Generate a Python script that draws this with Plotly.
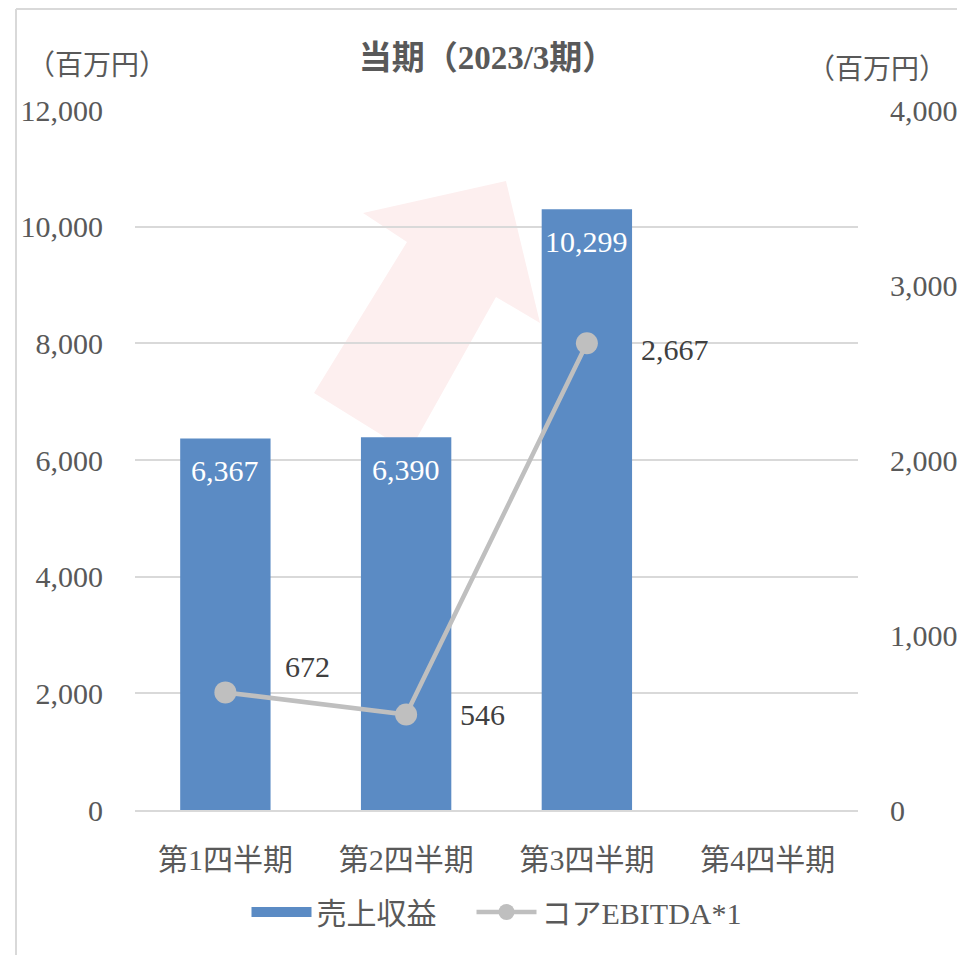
import plotly.graph_objects as go

categories = ["第1四半期", "第2四半期", "第3四半期", "第4四半期"]
revenue = [6367, 6390, 10299, None]
ebitda = [672, 546, 2667, None]
revenue_labels = ["6,367", "6,390", "10,299"]
ebitda_labels = ["672", "546", "2,667"]
left_ticks = [0, 2000, 4000, 6000, 8000, 10000, 12000]
right_ticks = [0, 1000, 2000, 3000, 4000]

FONT = "Liberation Serif, 'Noto Sans CJK JP', serif"
GRAY = "#595959"
BLUE = "#5B8BC4"

W, H = 957, 955
L, R, T, B = 135, 858, 110, 810

fig = go.Figure()
fig.add_trace(go.Bar(
    x=categories, y=revenue, name="売上収益",
    marker=dict(color=BLUE, line=dict(width=0)),
    yaxis="y", showlegend=False,
))
# legend entry for bars (wide rectangle look)
fig.add_trace(go.Scatter(
    x=[None], y=[None], name="売上収益\u3000", mode="lines",
    line=dict(color=BLUE, width=15), yaxis="y",
))
fig.add_trace(go.Scatter(
    x=categories, y=ebitda, name="コアEBITDA*1", mode="lines+markers",
    line=dict(color="#BFBFBF", width=4.5),
    marker=dict(color="#BFBFBF", size=22),
    yaxis="y2",
))

# bar labels
for i, lab in enumerate(revenue_labels):
    fig.add_annotation(x=categories[i], y=revenue[i], xref="x", yref="y",
                       text=lab, showarrow=False, yanchor="middle", yshift=-32,
                       font=dict(family=FONT, size=30, color="white"))

# line labels
shifts = [(82, 26), (76, 0), (88, -6)]
for i, lab in enumerate(ebitda_labels):
    fig.add_annotation(x=categories[i], y=ebitda[i], xref="x", yref="y2",
                       text=lab, showarrow=False, xshift=shifts[i][0], yshift=shifts[i][1],
                       xanchor="center", yanchor="middle",
                       font=dict(family=FONT, size=30, color="#404040"))

def px(xp, yp):
    return ((xp - L) / (R - L), (B - yp) / (B - T))

arrow_pts = [(314, 393), (407, 242), (363, 213), (506, 181), (540, 323), (496, 297), (409, 452)]
path = "M " + " L ".join(f"{px(a, b)[0]:.4f},{px(a, b)[1]:.4f}" for a, b in arrow_pts) + " Z"
fig.add_shape(type="path", path=path, xref="paper", yref="paper",
              fillcolor="#FDEFEF", line=dict(width=0), layer="below")

# frame lines
fx0, fy0 = px(16, 9)
fx1, fy1 = px(960, 960)
fig.add_shape(type="line", xref="paper", yref="paper", x0=fx0, x1=fx1, y0=fy0, y1=fy0,
              line=dict(color="#D9D9D9", width=2))
fig.add_shape(type="line", xref="paper", yref="paper", x0=fx0, x1=fx0, y0=fy0, y1=fy1,
              line=dict(color="#D9D9D9", width=2))

ax, ay = px(97, 65)
fig.add_annotation(x=ax, y=ay, xref="paper", yref="paper", xanchor="center", yanchor="middle",
                   text="（百万円）", showarrow=False,
                   font=dict(family=FONT, size=28, color=GRAY))
ax, ay = px(877, 70)
fig.add_annotation(x=ax, y=ay, xref="paper", yref="paper", xanchor="center", yanchor="middle",
                   text="（百万円）", showarrow=False,
                   font=dict(family=FONT, size=28, color=GRAY))

fig.update_layout(
    width=W, height=H,
    margin=dict(l=L, r=W - R, t=T, b=H - B, pad=0, autoexpand=False),
    paper_bgcolor="white", plot_bgcolor="rgba(0,0,0,0)",
    title=dict(text="<b>当期（2023/3期）</b>", x=487 / W, xanchor="center",
               y=1 - 57 / H, yanchor="middle",
               font=dict(family=FONT, size=33, color=GRAY)),
    bargap=0.5,
    showlegend=True,
    legend=dict(orientation="h", x=0.5, xanchor="center", y=px(0, 912)[1], yanchor="middle",
                font=dict(family=FONT, size=30, color=GRAY), itemwidth=60,
                traceorder="normal"),
    xaxis=dict(type="category", tickfont=dict(family=FONT, size=30, color=GRAY), automargin=False,
               showgrid=False, showline=True, linecolor="#D9D9D9", linewidth=2,
               ticks="outside", ticklen=22, tickcolor="rgba(0,0,0,0)"),
    yaxis=dict(range=[0, 12000], tickvals=left_ticks, tickformat=",d", automargin=False,
               tickfont=dict(family=FONT, size=30, color=GRAY),
               showgrid=True, gridcolor="#D9D9D9", gridwidth=2, zeroline=False,
               showline=False, ticks="outside", ticklen=25, tickcolor="rgba(0,0,0,0)"),
    yaxis2=dict(range=[0, 4000], tickvals=right_ticks, tickformat=",d", overlaying="y", side="right",
                automargin=False,
                tickfont=dict(family=FONT, size=30, color=GRAY),
                showgrid=False, zeroline=False, showline=False,
                ticks="outside", ticklen=25, tickcolor="rgba(0,0,0,0)"),
)

fig.write_html("out.html", config={"displayModeBar": False},
               post_script="document.body.style.margin='0px';document.body.style.overflow='hidden';")
